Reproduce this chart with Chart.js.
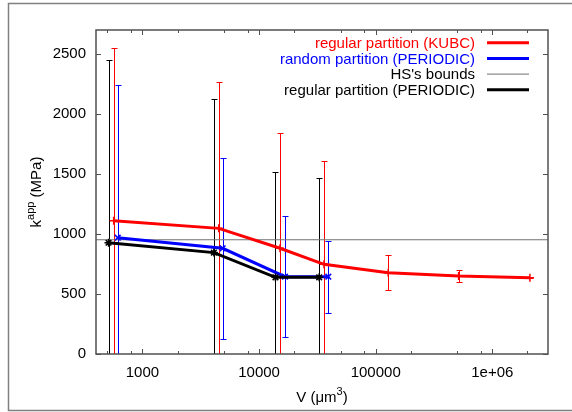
<!DOCTYPE html>
<html>
<head>
<meta charset="utf-8">
<script src="https://cdn.jsdelivr.net/npm/chart.js@4.4.1/dist/chart.umd.min.js"></script>
<style>
  html, body { margin: 0; padding: 0; background: #fff; }
</style>
</head>
<body>
<canvas id="c" width="572" height="412"></canvas>
<script>
// volumes (um^3) and apparent moduli (MPa)
const kubcV = [567, 4510, 15120, 36040, 128000, 514000, 2100000];
const kubcK = [1111, 1047, 881, 747, 678, 650, 636];
const kubcErr = [1441, 1222, 958, 861, 147, 47, 4];

const randV = [614, 4875, 16690, 39250];
const randK = [969, 881, 644, 644];
const randErr = [1270, 755, 505, 300];

const perV = [512, 4096, 13824, 32768];
const perK = [927, 845, 639, 639];
const perErr = [1523, 1280, 880, 830];

const hsBound = 952;

const xRange = [400, 3000000];
const yRange = [0, 2700];
const xMajorTicks = [1000, 10000, 100000, 1000000];
const xMinorTicks = [500, 800, 2000, 5000, 8000, 20000, 50000, 80000, 200000, 500000, 800000, 2000000];
const yTicks = [0, 500, 1000, 1500, 2000, 2500];

const FONT = '"Liberation Sans", Arial, sans-serif';

const pts = (xs, ys) => xs.map((v, i) => ({ x: v, y: ys[i] }));

const errSets = [
  { v: kubcV, k: kubcK, e: kubcErr, color: "#ff0000" },
  { v: randV, k: randK, e: randErr, color: "#0000ff" },
  { v: perV, k: perK, e: perErr, color: "#000000" },
];

// gnuplot-ish decorations: error bars, box, inward ticks, titles, key
const decor = {
  id: "decor",
  beforeDatasetsDraw(chart) {
    const { ctx, chartArea: a, scales: { x, y } } = chart;
    ctx.save();
    ctx.beginPath();
    ctx.rect(a.left, a.top, a.right - a.left, a.bottom - a.top);
    ctx.clip();
    ctx.lineWidth = 1;
    errSets.forEach(s => {
      ctx.strokeStyle = s.color;
      s.v.forEach((v, i) => {
        const px = Math.round(x.getPixelForValue(v)) + 0.5;
        const t = Math.round(y.getPixelForValue(s.k[i] + s.e[i])) + 0.5;
        const b = Math.round(y.getPixelForValue(s.k[i] - s.e[i])) + 0.5;
        ctx.beginPath();
        ctx.moveTo(px, t); ctx.lineTo(px, b);
        ctx.moveTo(px - 3, t); ctx.lineTo(px + 3, t);
        ctx.moveTo(px - 3, b); ctx.lineTo(px + 3, b);
        ctx.stroke();
      });
    });
    ctx.restore();
  },
  afterDraw(chart) {
    const { ctx, chartArea: a, scales: { x, y } } = chart;
    ctx.save();

    // outer frame
    ctx.strokeStyle = "#808080";
    ctx.lineWidth = 1.5;
    ctx.beginPath();
    ctx.moveTo(572, 3.5); ctx.lineTo(8.5, 3.5); ctx.lineTo(8.5, 410.5); ctx.lineTo(572, 410.5);
    ctx.stroke();

    // plot box
    ctx.strokeStyle = "#505050";
    ctx.lineWidth = 1.5;
    ctx.strokeRect(a.left, a.top, a.right - a.left, a.bottom - a.top);

    // ticks, inward on all sides
    ctx.lineWidth = 1;
    ctx.beginPath();
    yTicks.forEach(v => {
      const py = Math.round(y.getPixelForValue(v)) + 0.5;
      ctx.moveTo(a.left, py); ctx.lineTo(a.left + 5, py);
      ctx.moveTo(a.right, py); ctx.lineTo(a.right - 5, py);
    });
    xMajorTicks.forEach(v => {
      const px = Math.round(x.getPixelForValue(v)) + 0.5;
      ctx.moveTo(px, a.bottom); ctx.lineTo(px, a.bottom - 5);
      ctx.moveTo(px, a.top); ctx.lineTo(px, a.top + 5);
    });
    xMinorTicks.forEach(v => {
      const px = Math.round(x.getPixelForValue(v)) + 0.5;
      ctx.moveTo(px, a.bottom); ctx.lineTo(px, a.bottom - 3);
      ctx.moveTo(px, a.top); ctx.lineTo(px, a.top + 3);
    });
    ctx.stroke();

    // axis titles with superscripts
    ctx.fillStyle = "#000";
    ctx.textAlign = "left";
    ctx.textBaseline = "alphabetic";
    const big = "15px " + FONT, small = "11px " + FONT;

    ctx.save();
    ctx.translate(40.5, (a.top + a.bottom) / 2);
    ctx.rotate(-Math.PI / 2);
    ctx.font = big; const w1 = ctx.measureText("k").width, w3 = ctx.measureText(" (MPa)").width;
    ctx.font = small; const w2 = ctx.measureText("app").width;
    let sx = -(w1 + w2 + w3) / 2;
    ctx.font = big; ctx.fillText("k", sx, 0); sx += w1;
    ctx.font = small; ctx.fillText("app", sx, -7); sx += w2;
    ctx.font = big; ctx.fillText(" (MPa)", sx, 0);
    ctx.restore();

    ctx.font = big; const v1 = ctx.measureText("V (μm").width, v3 = ctx.measureText(")").width;
    ctx.font = small; const v2 = ctx.measureText("3").width;
    let tx = (a.left + a.right) / 2 - (v1 + v2 + v3) / 2;
    const by = 401.5;
    ctx.font = big; ctx.fillText("V (μm", tx, by); tx += v1;
    ctx.font = small; ctx.fillText("3", tx, by - 7); tx += v2;
    ctx.font = big; ctx.fillText(")", tx, by);

    // key
    const rows = [42.7, 58.4, 74.1, 89.8];
    const order = [1, 2, 3, 0];
    ctx.font = big;
    ctx.textAlign = "right";
    ctx.textBaseline = "middle";
    order.forEach((di, r) => {
      const ds = chart.data.datasets[di];
      ctx.fillStyle = ds.keyText;
      ctx.fillText(ds.label, 475, rows[r] + 1);
      ctx.strokeStyle = ds.borderColor;
      ctx.lineWidth = ds.borderWidth;
      ctx.beginPath();
      ctx.moveTo(487, rows[r]); ctx.lineTo(529, rows[r]);
      ctx.stroke();
    });
    ctx.restore();
  }
};

new Chart(document.getElementById("c"), {
  type: "scatter",
  data: {
    datasets: [
      {
        label: "regular partition (PERIODIC)",
        data: pts(perV, perK),
        showLine: true, borderColor: "#000000", backgroundColor: "#000000", keyText: "#000000",
        borderWidth: 3, pointStyle: "star", pointRadius: 4, pointBorderWidth: 1.5,
      },
      {
        label: "regular partition (KUBC)",
        data: pts(kubcV, kubcK),
        showLine: true, borderColor: "#ff0000", backgroundColor: "#ff0000", keyText: "#ff0000",
        borderWidth: 3, pointStyle: "cross", pointRadius: 4, pointBorderWidth: 1.5,
      },
      {
        label: "random partition (PERIODIC)",
        data: pts(randV, randK),
        showLine: true, borderColor: "#0000ff", backgroundColor: "#0000ff", keyText: "#0000ff",
        borderWidth: 3, pointStyle: "crossRot", pointRadius: 4, pointBorderWidth: 1.5,
      },
      {
        label: "HS's bounds",
        data: pts(xRange, [hsBound, hsBound]),
        showLine: true, borderColor: "#707070", backgroundColor: "#707070", keyText: "#000000",
        borderWidth: 1, pointRadius: 0,
      },
    ],
  },
  options: {
    responsive: false,
    animation: false,
    devicePixelRatio: 1,
    layout: { padding: { top: 30, right: 24, left: 0, bottom: 0 } },
    plugins: { legend: { display: false }, tooltip: { enabled: false } },
    scales: {
      x: {
        type: "logarithmic",
        min: xRange[0], max: xRange[1],
        afterBuildTicks: s => { s.ticks = xMajorTicks.map(v => ({ value: v })); },
        afterFit: s => { s.height = 58; },
        grid: { display: false, drawTicks: false },
        border: { display: false },
        ticks: {
          autoSkip: false, maxRotation: 0, padding: 10,
          color: "#000", font: { family: FONT, size: 15 },
          callback: v => (v >= 1000000 ? "1e+0" + Math.round(Math.log10(v)) : String(v)),
        },
      },
      y: {
        min: yRange[0], max: yRange[1],
        afterBuildTicks: s => { s.ticks = yTicks.map(v => ({ value: v })); },
        afterFit: s => { s.width = 96; },
        grid: { display: false, drawTicks: false },
        border: { display: false },
        ticks: {
          padding: 10, color: "#000", font: { family: FONT, size: 15 },
          callback: v => String(v),
        },
      },
    },
  },
  plugins: [decor],
});
</script>
</body>
</html>
